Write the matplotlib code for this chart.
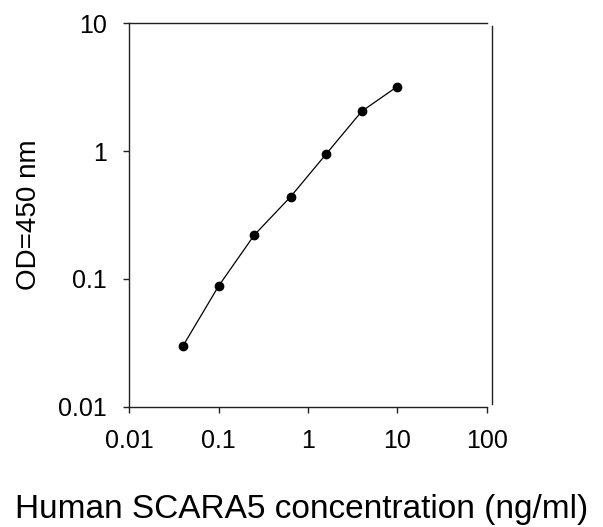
import matplotlib
matplotlib.use("Agg")
import matplotlib.pyplot as plt
from matplotlib.ticker import FixedLocator, FixedFormatter, NullLocator

plt.rcParams['font.family'] = ['Liberation Sans', 'DejaVu Sans']

concentration = [0.04, 0.1, 0.25, 0.64, 1.6, 4, 10]
od450 = [0.030, 0.088, 0.22, 0.44, 0.95, 2.05, 3.2]

x_ticks = [0.01, 0.1, 1, 10, 100]
x_tick_labels = ["0.01", "0.1", "1", "10", "100"]
y_ticks = [0.01, 0.1, 1, 10]
y_tick_labels = ["0.01", "0.1", "1", "10"]

fig = plt.figure(figsize=(6.03, 5.27), dpi=100)
ax = fig.add_axes([129.3 / 603, (527 - 406.7) / 527, (492 - 129.3) / 603, (406.7 - 23.3) / 527])

ax.plot(concentration, od450, color='black', linewidth=0.9, marker='o',
        markersize=6, markerfacecolor='black', markeredgecolor='black')

ax.set_xscale('log')
ax.set_yscale('log')
ax.set_xlim(0.01, 100 * 1.147)
ax.set_ylim(0.01, 10)

ax.xaxis.set_major_locator(FixedLocator(x_ticks))
ax.xaxis.set_major_formatter(FixedFormatter(x_tick_labels))
ax.yaxis.set_major_locator(FixedLocator(y_ticks))
ax.yaxis.set_major_formatter(FixedFormatter(y_tick_labels))
ax.xaxis.set_minor_locator(NullLocator())
ax.yaxis.set_minor_locator(NullLocator())

for s in ax.spines.values():
    s.set_linewidth(1.0)
    s.set_color('#222222')
ax.spines['top'].set_bounds(0.01, 100)
ax.spines['bottom'].set_bounds(0.01, 100)
ax.spines['right'].set_bounds(0.0105, 9.6)

ax.tick_params(axis='both', which='major', direction='out', length=4, width=1.0,
               labelsize=18, pad=12, color='#222222')
ax.tick_params(top=False, right=False)

ax.set_xlabel("Human SCARA5 concentration (ng/ml)", fontsize=24)
ax.xaxis.set_label_coords((301.5 - 129.3) / (492 - 129.3), -0.267)
ax.xaxis.label.set_va('center')
ax.set_ylabel("OD=450 nm", fontsize=20)
ax.yaxis.set_label_coords((28.5 - 129.3) / (492 - 129.3), 0.5)
ax.yaxis.label.set_va('center')

fig.savefig("out.png", dpi=100)
